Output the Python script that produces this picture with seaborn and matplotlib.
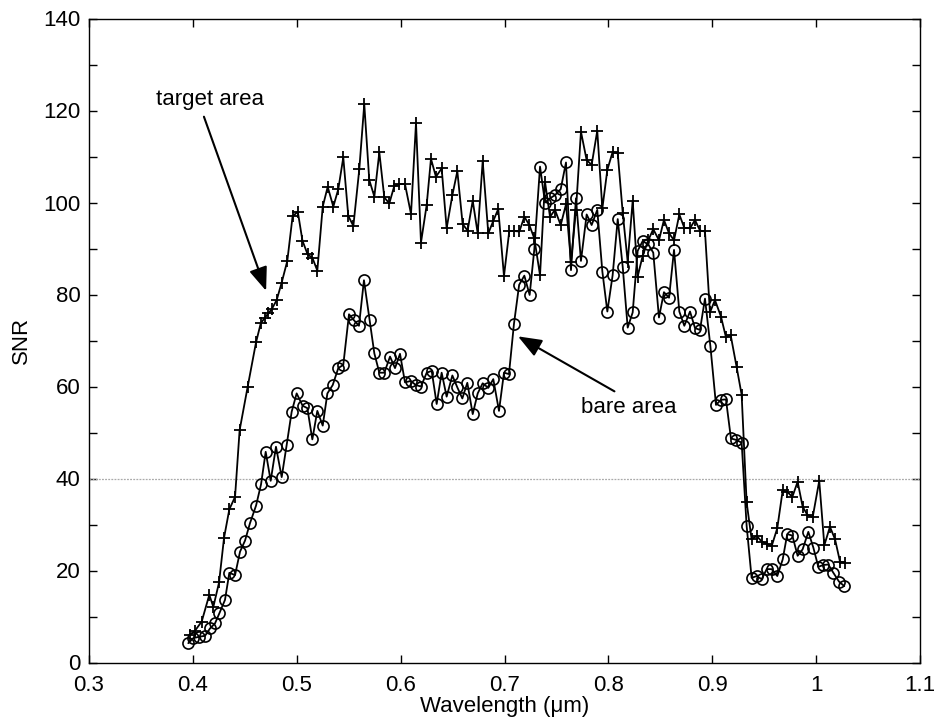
import numpy as np
import pandas as pd
import matplotlib
matplotlib.use("Agg")
import matplotlib.pyplot as plt
import seaborn as sns

# ---- data ----
target_wl = [0.3972, 0.4020, 0.4085, 0.4158, 0.4197, 0.4252, 0.4300, 0.4351, 0.4406, 0.4450,
             0.4528, 0.4608, 0.4653, 0.4694, 0.4727, 0.4759, 0.4807, 0.4855, 0.4909, 0.4960,
             0.5010, 0.5055, 0.5105, 0.5150, 0.5198, 0.5250, 0.5298, 0.5352, 0.5400, 0.5448,
             0.5496, 0.5545, 0.5602, 0.5650, 0.5698, 0.5747, 0.5795, 0.5843, 0.5891, 0.5939,
             0.5987, 0.6042, 0.6100, 0.6148, 0.6196, 0.6251, 0.6292, 0.6340, 0.6395, 0.6443,
             0.6498, 0.6546, 0.6597, 0.6645, 0.6694, 0.6742, 0.6790, 0.6844, 0.6892, 0.6940,
             0.6995, 0.7046, 0.7094, 0.7143, 0.7191, 0.7239, 0.7287, 0.7342, 0.7390, 0.7438,
             0.7486, 0.7541, 0.7592, 0.7640, 0.7688, 0.7736, 0.7791, 0.7839, 0.7893, 0.7942,
             0.7990, 0.8041, 0.8090, 0.8138, 0.8186, 0.8234, 0.8282, 0.8330, 0.8384, 0.8432,
             0.8487, 0.8535, 0.8584, 0.8632, 0.8683, 0.8731, 0.8786, 0.8834, 0.8882, 0.8930,
             0.8978, 0.9026, 0.9084, 0.9132, 0.9177, 0.9235, 0.9283, 0.9331, 0.9379, 0.9428,
             0.9476, 0.9524, 0.9572, 0.9626, 0.9678, 0.9722, 0.9771, 0.9822, 0.9870, 0.9915,
             0.9967, 1.0030, 1.0079, 1.0133, 1.0182, 1.0230, 1.0278]
target_snr = [6.0, 6.9, 8.9, 14.7, 12.1, 17.4, 27.1, 33.3, 36.0, 50.5,
              60.0, 69.6, 73.7, 75.0, 75.9, 76.8, 78.8, 82.6, 87.3, 97.0,
              98.0, 91.7, 88.7, 88.0, 85.2, 99.1, 103.4, 99.1, 102.9, 109.8,
              97.1, 94.9, 107.2, 121.4, 104.9, 101.3, 110.9, 101.1, 99.8, 103.6,
              104.0, 104.0, 97.5, 117.3, 91.3, 99.5, 109.5, 105.6, 107.4, 94.4,
              101.6, 106.8, 95.3, 93.9, 100.4, 93.3, 109.0, 93.3, 96.0, 98.6,
              84.0, 93.8, 93.8, 93.7, 96.9, 95.1, 92.2, 84.2, 104.5, 96.9,
              98.4, 95.1, 99.6, 87.1, 98.4, 115.4, 109.2, 108.2, 115.6, 98.7,
              107.1, 111.0, 110.7, 97.8, 87.1, 100.4, 83.9, 88.4, 91.8, 94.2,
              91.8, 96.2, 93.3, 91.8, 97.4, 94.5, 94.4, 96.2, 93.9, 93.7,
              76.1, 78.8, 75.2, 70.7, 71.2, 64.2, 58.2, 34.8, 26.8, 27.5,
              26.3, 25.8, 25.3, 29.2, 37.4, 37.1, 36.0, 39.3, 33.9, 32.1,
              31.6, 39.5, 25.5, 29.5, 26.8, 21.9, 21.7]

bare_wl = [0.3956, 0.4004, 0.4062, 0.4117, 0.4165, 0.4213, 0.4255, 0.4309, 0.4351, 0.4406,
           0.4454, 0.4502, 0.4550, 0.4608, 0.4656, 0.4701, 0.4749, 0.4800, 0.4855, 0.4903,
           0.4951, 0.4999, 0.5057, 0.5102, 0.5150, 0.5198, 0.5250, 0.5295, 0.5346, 0.5400,
           0.5448, 0.5503, 0.5551, 0.5599, 0.5647, 0.5702, 0.5747, 0.5795, 0.5843, 0.5898,
           0.5946, 0.5994, 0.6042, 0.6097, 0.6148, 0.6196, 0.6251, 0.6299, 0.6347, 0.6395,
           0.6443, 0.6498, 0.6546, 0.6594, 0.6642, 0.6694, 0.6742, 0.6790, 0.6844, 0.6892,
           0.6947, 0.6995, 0.7043, 0.7091, 0.7141, 0.7191, 0.7242, 0.7287, 0.7342, 0.7390,
           0.7438, 0.7486, 0.7541, 0.7592, 0.7640, 0.7688, 0.7736, 0.7791, 0.7839, 0.7893,
           0.7942, 0.7990, 0.8041, 0.8090, 0.8138, 0.8186, 0.8234, 0.8282, 0.8330, 0.8384,
           0.8432, 0.8487, 0.8535, 0.8584, 0.8632, 0.8683, 0.8731, 0.8786, 0.8834, 0.8882,
           0.8930, 0.8982, 0.9036, 0.9084, 0.9132, 0.9180, 0.9229, 0.9283, 0.9331, 0.9379,
           0.9428, 0.9476, 0.9524, 0.9572, 0.9626, 0.9678, 0.9722, 0.9771, 0.9822, 0.9870,
           0.9925, 0.9973, 1.0021, 1.0069, 1.0117, 1.0166, 1.0220, 1.0271]
bare_snr = [4.2, 5.3, 5.6, 5.8, 7.4, 8.5, 10.7, 13.6, 19.5, 19.0,
            24.1, 26.5, 30.3, 34.1, 38.7, 45.8, 39.5, 46.9, 40.3, 47.3,
            54.5, 58.5, 55.8, 55.3, 48.5, 54.7, 51.5, 58.5, 60.3, 64.0,
            64.7, 75.7, 74.4, 73.2, 83.1, 74.4, 67.2, 63.0, 63.0, 66.5,
            64.0, 67.1, 60.9, 61.2, 60.3, 60.0, 63.0, 63.4, 56.2, 63.0,
            57.8, 62.4, 59.8, 57.4, 60.8, 54.0, 58.5, 60.7, 59.7, 61.6,
            54.7, 63.0, 62.7, 73.6, 82.1, 84.1, 79.9, 89.8, 107.8, 100.0,
            100.9, 101.6, 102.9, 108.7, 85.3, 100.9, 87.3, 97.4, 95.1, 98.4,
            85.0, 76.3, 84.2, 96.4, 86.0, 72.8, 76.1, 89.5, 91.6, 90.9,
            89.1, 75.0, 80.5, 79.3, 89.7, 76.3, 73.2, 76.3, 72.7, 72.3,
            79.1, 68.8, 56.0, 57.1, 57.2, 48.7, 48.4, 47.8, 29.7, 18.4,
            18.8, 18.1, 20.3, 20.3, 18.8, 22.4, 27.9, 27.6, 23.2, 24.6,
            28.4, 25.0, 20.8, 21.2, 21.3, 19.5, 17.6, 16.6]

x_ticks = [0.3, 0.4, 0.5, 0.6, 0.7, 0.8, 0.9, 1.0, 1.1]
x_ticklabels = ["0.3", "0.4", "0.5", "0.6", "0.7", "0.8", "0.9", "1", "1.1"]
y_ticks = [0, 20, 40, 60, 80, 100, 120, 140]
threshold = 40

target_df = pd.DataFrame({"wl": target_wl, "snr": target_snr})
bare_df = pd.DataFrame({"wl": bare_wl, "snr": bare_snr})

sns.set_style("ticks")
plt.rcParams["font.family"] = ["Liberation Sans", "DejaVu Sans"]
plt.rcParams["text.color"] = "black"
plt.rcParams["axes.labelcolor"] = "black"
plt.rcParams["xtick.color"] = "black"
plt.rcParams["ytick.color"] = "black"

FS = 16

fig = plt.figure(figsize=(9.35, 7.27), dpi=100)
ax = fig.add_axes([89 / 935, 1 - 662.5 / 727, (920 - 89) / 935, (662.5 - 18.5) / 727])

ax.axhline(threshold, color="#aaaaaa", lw=0.9, ls=(0, (1.5, 1.0)), zorder=1)

sns.lineplot(data=target_df, x="wl", y="snr", ax=ax, color="black", lw=1.3,
             marker="+", markersize=9, markeredgewidth=1.3, markeredgecolor="black",
             estimator=None, sort=False, zorder=3)
sns.lineplot(data=bare_df, x="wl", y="snr", ax=ax, color="black", lw=1.3,
             marker="o", markersize=8, markerfacecolor="none", markeredgewidth=1.2,
             markeredgecolor="black", estimator=None, sort=False, zorder=3)

ax.set_xlim(0.3, 1.1)
ax.set_ylim(0, 140)
ax.set_xticks(x_ticks)
ax.set_xticklabels(x_ticklabels)
ax.set_yticks(y_ticks)
ax.set_yticks([10, 30, 50, 70, 90, 110, 130], minor=True)
ax.tick_params(which="both", direction="in", top=True, right=True, length=6,
               width=1.0, labelsize=FS, colors="black")
ax.tick_params(axis="x", pad=9)
ax.tick_params(axis="y", pad=6)
for s in ax.spines.values():
    s.set_linewidth(1.0)
    s.set_color("black")

ax.set_xlabel("Wavelength (\u03bcm)", fontsize=FS, labelpad=0)
ax.set_ylabel("SNR", fontsize=FS, labelpad=8)

ax.annotate("target area", xy=(0.4705, 80.8), xytext=(0.3645, 122.5),
            fontsize=FS, ha="left", va="center",
            arrowprops=dict(arrowstyle="-|>,head_length=0.9,head_width=0.35",
                            color="black", lw=1.5, shrinkA=3, shrinkB=0,
                            relpos=(0.42, 0.0)))
ax.annotate("bare area", xy=(0.7130, 70.9), xytext=(0.7735, 55.5),
            fontsize=FS, ha="left", va="center",
            arrowprops=dict(arrowstyle="-|>,head_length=0.9,head_width=0.35",
                            color="black", lw=1.5, shrinkA=3, shrinkB=0,
                            relpos=(0.45, 1.0)))

fig.savefig("out.png", dpi=100, facecolor="white")
